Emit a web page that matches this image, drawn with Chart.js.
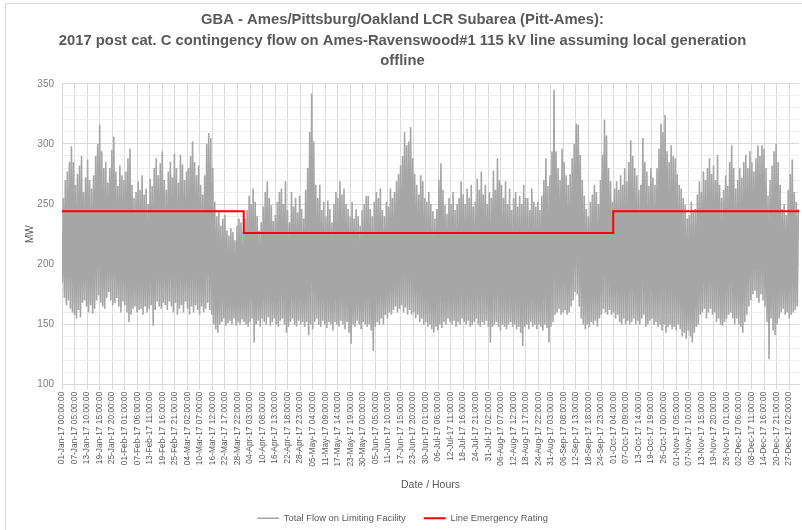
<!DOCTYPE html>
<html>
<head>
<meta charset="utf-8">
<script src="https://cdn.jsdelivr.net/npm/chart.js@4.4.1/dist/chart.umd.min.js"></script>
<style>
  html, body { margin: 0; padding: 0; background: #fff; }
  #wrap { position: relative; width: 802px; height: 530px; }
</style>
</head>
<body>
<div id="wrap"><canvas id="flowChart" width="802" height="530"></canvas></div>
<script>
// Daily high / low of the hourly flow (MW), Jan..Dec
const dailyPeak = [
  255,270,277,285,298,285,266,275,282,290,260,272,287,270,263,274,290,300,316,294,280,285,268,280,295,306,277,265,282,274,270,
  277,288,296,266,255,260,269,262,274,258,263,250,271,265,280,288,274,284,294,270,262,277,285,272,292,280,268,291,
  283,270,277,280,290,302,285,274,282,266,258,274,300,309,305,280,252,240,244,232,238,241,228,224,230,227,220,232,238,235,227,
  238,245,257,250,263,252,240,228,235,248,260,269,255,249,236,241,252,260,263,250,269,245,235,260,248,255,243,257,246,238,
  262,280,310,342,302,266,255,266,245,252,240,253,246,235,250,260,255,269,258,263,250,246,240,252,238,246,240,232,245,250,257,
  257,246,240,252,260,255,263,245,240,252,248,263,255,260,269,275,282,290,310,299,302,314,288,275,266,258,274,269,255,252,
  260,250,244,238,246,270,284,262,249,242,255,250,260,245,250,255,269,258,250,263,255,266,248,252,271,262,277,258,266,250,260,
  255,278,262,288,270,266,255,269,250,263,245,255,260,248,257,250,266,255,255,245,263,252,248,252,245,257,270,288,265,274,294,
  345,294,280,270,296,285,274,266,275,288,300,317,316,291,270,257,246,240,252,258,266,260,250,270,291,320,307,280,269,252,
  263,269,262,274,266,280,269,285,303,290,280,274,262,266,305,285,277,265,280,272,266,280,296,317,310,324,294,285,299,290,288,
  275,266,263,255,249,238,241,252,245,246,258,269,260,277,270,280,288,275,282,270,291,266,255,262,274,265,285,299,280,263,
  270,280,272,285,291,280,294,285,277,288,299,290,299,296,280,257,270,282,294,300,285,266,246,250,241,262,275,287,260,252,246
];
const dailyLow = [
  185,172,166,170,163,160,158,155,162,156,168,170,165,160,166,159,163,170,174,168,165,163,172,177,170,166,168,172,165,160,169,
  166,160,152,158,163,165,160,162,163,158,165,160,163,166,149,162,169,165,163,168,166,162,169,165,160,168,158,163,
  166,160,169,163,158,165,160,166,162,158,165,160,163,168,162,158,150,146,143,150,152,155,149,151,153,150,155,149,152,150,154,
  152,150,148,152,155,135,150,153,148,155,152,150,156,149,152,155,150,148,153,155,150,143,148,152,155,150,148,153,150,152,
  148,152,141,150,146,152,155,150,148,153,150,147,152,150,145,152,150,148,153,150,146,152,143,134,150,148,153,150,146,152,150,
  148,150,145,128,148,152,150,155,150,158,155,160,158,162,165,160,163,166,160,164,158,162,158,160,155,158,152,155,150,152,
  148,150,146,143,148,145,150,147,152,150,155,152,150,153,148,152,150,155,152,150,153,148,150,152,155,150,148,152,150,153,148,
  135,148,150,152,148,145,150,148,146,150,152,148,150,146,148,143,132,148,150,146,152,148,150,146,150,148,145,150,147,135,148,
  152,158,160,163,158,160,162,158,160,165,170,177,175,165,155,150,146,150,148,152,150,153,148,155,158,163,160,158,162,158,
  160,155,158,152,150,155,150,153,150,152,155,150,153,150,155,158,148,150,153,155,150,152,148,150,145,150,143,148,150,146,148,
  145,150,146,140,143,138,145,140,135,143,148,150,158,160,163,155,160,163,158,160,152,155,150,149,152,155,158,160,155,150,
  155,150,148,143,152,158,165,170,175,178,172,168,175,170,165,152,121,155,145,141,150,155,160,163,158,160,155,158,160,162,165
];
// Line emergency rating: hour where each level starts, and the level (MW)
const ratingHours = [0, 2160, 6552, 8760];
const ratingValues = [244, 226, 244, 244];

const monthNames = ['Jan','Feb','Mar','Apr','May','Jun','Jul','Aug','Sep','Oct','Nov','Dec'];
const tickStepHours = 149;
const totalHours = 8760;

function hourLabel(h) {
  const d = new Date(Date.UTC(2017, 0, 1) + h * 3600000);
  const p = n => String(n).padStart(2, '0');
  return p(d.getUTCDate()) + '-' + monthNames[d.getUTCMonth()] + '-17 ' + p(d.getUTCHours()) + ':00:00';
}

// each day: low in the early morning, high in the afternoon
const flowPoints = [];
dailyPeak.forEach(function (peak, day) {
  flowPoints.push({ x: day * 24 + 4, y: dailyLow[day] });
  flowPoints.push({ x: day * 24 + 16, y: peak });
});
const ratingPoints = ratingHours.map((h, i) => ({ x: h, y: ratingValues[i] }));

const frame = {
  id: 'frame',
  beforeDraw(chart) {
    const c = chart.ctx;
    c.save();
    c.fillStyle = '#fff';
    c.fillRect(0, 0, chart.width, chart.height);
    c.strokeStyle = '#d9d9d9';
    c.lineWidth = 1;
    c.strokeRect(5.5, 3.5, chart.width + 10, chart.height + 10);
    c.restore();
  }
};

const txt = '#595959';
Chart.defaults.font.family = "'Liberation Sans', Arial, sans-serif";
Chart.defaults.color = txt;

new Chart(document.getElementById('flowChart'), {
  type: 'line',
  data: {
    datasets: [{
      label: 'Total Flow on Limiting Facility',
      data: flowPoints,
      borderColor: '#a6a6a6',
      borderWidth: 1.6,
      pointRadius: 0,
      tension: 0,
      order: 1
    }, {
      label: 'Line Emergency Rating',
      data: ratingPoints,
      borderColor: '#ff0000',
      borderWidth: 2,
      pointRadius: 0,
      stepped: true,
      order: 0
    }]
  },
  options: {
    responsive: false,
    animation: false,
    devicePixelRatio: 1,
    layout: { padding: { left: 6, right: 3, top: 6, bottom: -3 } },
    plugins: {
      title: {
        display: true,
        text: [
          'GBA - Ames/Pittsburg/Oakland LCR Subarea (Pitt-Ames):',
          '2017 post cat. C contingency flow on Ames-Ravenswood#1 115 kV line assuming local generation',
          'offline'
        ],
        color: txt,
        font: { size: 14.8, weight: 'bold', lineHeight: 1.38 },
        padding: { top: 4, bottom: 12.5 }
      },
      legend: {
        position: 'bottom',
        labels: {
          usePointStyle: true,
          pointStyle: 'line',
          pointStyleWidth: 22,
          padding: 18,
          color: txt,
          font: { size: 9.4 },
          sort: (a, b) => a.datasetIndex - b.datasetIndex
        }
      },
      tooltip: { enabled: false }
    },
    scales: {
      x: {
        type: 'linear',
        min: 0,
        max: totalHours,
        afterBuildTicks: function (scale) {
          const t = [];
          for (let h = 0; h < totalHours; h += tickStepHours) t.push({ value: h });
          scale.ticks = t;
        },
        afterFit: function (scale) { scale.height = 111; },
        ticks: {
          autoSkip: false,
          minRotation: 90,
          maxRotation: 90,
          padding: 2,
          color: txt,
          font: { size: 8.4 },
          callback: v => hourLabel(v)
        },
        grid: { color: '#d9d9d9', tickLength: 5 },
        border: { color: '#d9d9d9' },
        title: { display: true, text: 'Date / Hours', color: txt, font: { size: 10.5 }, padding: { top: 4 } }
      },
      y: {
        min: 100,
        max: 350,
        afterFit: function (scale) { scale.width = 56; },
        ticks: {
          stepSize: 10,
          autoSkip: false,
          padding: 8,
          color: '#7f7f7f',
          font: { size: 10 },
          callback: v => (v % 50 === 0 ? v : '')
        },
        grid: {
          drawTicks: false,
          color: ctx => (ctx.tick && ctx.tick.value % 50 === 0 ? '#d9d9d9' : '#eeeeee')
        },
        border: { color: '#d9d9d9' },
        title: { display: true, text: 'MW', color: txt, font: { size: 10 }, padding: { top: 18 } }
      }
    }
  },
  plugins: [frame]
});
</script>
</body>
</html>
